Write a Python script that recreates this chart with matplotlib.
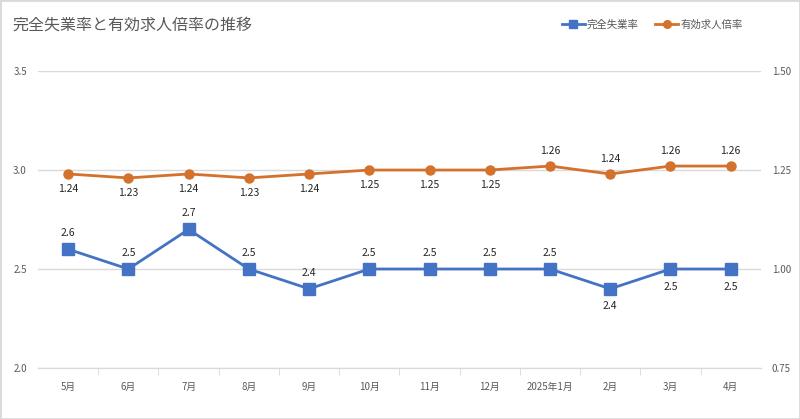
import matplotlib
matplotlib.use("Agg")
import matplotlib.pyplot as plt
from matplotlib.patches import Rectangle
from matplotlib.lines import Line2D

plt.rcParams['font.family'] = ['Noto Sans CJK JP', 'DejaVu Sans']

categories = ["5月", "6月", "7月", "8月", "9月", "10月", "11月", "12月", "2025年1月", "2月", "3月", "4月"]
unemployment = [2.6, 2.5, 2.7, 2.5, 2.4, 2.5, 2.5, 2.5, 2.5, 2.4, 2.5, 2.5]
job_ratio = [1.24, 1.23, 1.24, 1.23, 1.24, 1.25, 1.25, 1.25, 1.26, 1.24, 1.26, 1.26]
# label positions: True = above
unemp_above = [True, True, True, True, True, True, True, True, True, False, False, False]
ratio_above = [False, False, False, False, False, False, False, False, True, True, True, True]

blue = "#4472C4"
orange = "#D4712A"
txt = "#595959"
lbl = "#262626"

fig = plt.figure(figsize=(8, 4.19), dpi=100)
fig.patches.append(Rectangle((0, 0), 1, 1, transform=fig.transFigure, fill=False,
                             edgecolor="#D9D9D9", linewidth=2))
ax = fig.add_axes([0.0475, 0.1217, 0.9035, 0.7088])
ax2 = ax.twinx()

x = list(range(len(categories)))
ax.set_xlim(-0.5, len(categories) - 0.5)
ax.set_ylim(2.0, 3.5)
ax.set_yticks([2.0, 2.5, 3.0, 3.5])
ax.set_yticklabels(["2.0", "2.5", "3.0", "3.5"])
ax2.set_ylim(0.75, 1.50)
ax2.set_yticks([0.75, 1.00, 1.25, 1.50])
ax2.set_yticklabels(["0.75", "1.00", "1.25", "1.50"])

ax.grid(axis='y', color="#D9D9D9", linewidth=1)
ax.set_axisbelow(True)
for a in (ax, ax2):
    for s in ("top", "left", "right"):
        a.spines[s].set_visible(False)
    a.spines["bottom"].set_color("#D9D9D9")
    a.tick_params(axis='y', length=0, labelsize=7, labelcolor=txt, pad=8)

ax.set_xticks(x)
ax.set_xticklabels(categories, fontsize=7, color=txt)
ax.tick_params(axis='x', length=0, pad=10)
ax.set_xticks([i - 0.5 for i in range(1, len(categories))], minor=True)
ax.tick_params(axis='x', which='minor', length=5, color="#D9D9D9")

ax.plot(x, unemployment, color=blue, linewidth=2.0, marker='s', markersize=8,
        markerfacecolor=blue, markeredgecolor=blue, zorder=3)
ax2.plot(x, job_ratio, color=orange, linewidth=2.0, marker='o', markersize=6.5,
         markerfacecolor=orange, markeredgecolor=orange, zorder=3)

for i, (v, up) in enumerate(zip(unemployment, unemp_above)):
    ax.annotate(f"{v:.1f}", (i, v), xytext=(0, 8 if up else -9), textcoords="offset points",
                ha='center', va='bottom' if up else 'top', fontsize=7.5, color=lbl)
for i, (v, up) in enumerate(zip(job_ratio, ratio_above)):
    ax2.annotate(f"{v:.2f}", (i, v), xytext=(0, 7 if up else -7), textcoords="offset points",
                 ha='center', va='bottom' if up else 'top', fontsize=7.5, color=lbl)

fig.text(0.016, 0.94, "完全失業率と有効求人倍率の推移", fontsize=11.5, color=txt,
         ha='left', va='center')

handles = [Line2D([], [], color=blue, linewidth=2.0, marker='s', markersize=6),
           Line2D([], [], color=orange, linewidth=2.0, marker='o', markersize=5.5)]
fig.legend(handles, ["完全失業率", "有効求人倍率"], loc='center right',
           bbox_to_anchor=(0.94, 0.942), ncol=2, frameon=False, fontsize=7.5,
           labelcolor=txt, handlelength=2.2, handletextpad=0.2, columnspacing=1.6)

fig.savefig("out.png", dpi=100, facecolor="white")
